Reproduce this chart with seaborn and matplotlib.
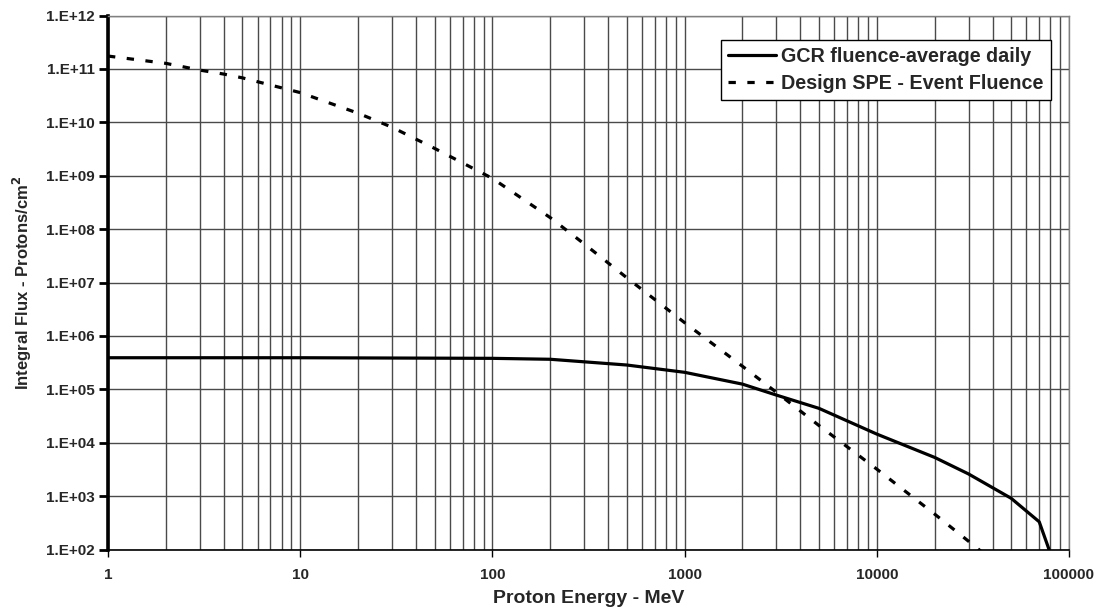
import numpy as np
import pandas as pd
import matplotlib
matplotlib.use("Agg")
import matplotlib.pyplot as plt
import seaborn as sns

# ---- data ----
gcr_energy = [1, 10, 100, 200, 500, 1000, 2000, 3000, 5000, 10000, 20000, 30000, 50000, 70000, 80000]
gcr_flux = [3.9e5, 3.9e5, 3.8e5, 3.65e5, 2.85e5, 2.08e5, 1.25e5, 7.8e4, 4.4e4, 1.45e4, 5.3e3, 2.6e3, 9.1e2, 3.3e2, 85]

spe_energy = [1, 2, 3, 4, 5, 10, 20, 30, 50, 100, 200, 300, 500, 1000, 2000, 3000, 5000, 10000, 20000, 30000, 40000]
spe_flux = [1.74e11, 1.27e11, 9.5e10, 8.0e10, 6.8e10, 3.6e10, 1.48e10, 8.1e9, 3.25e9, 8.9e8, 1.64e8, 5.3e7,
            1.23e7, 1.77e6, 2.7e5, 8.8e4, 2.1e4, 3.2e3, 4.6e2, 1.43e2, 62]

series_labels = ["GCR fluence-average daily", "Design SPE - Event Fluence"]
x_ticks = [1, 10, 100, 1000, 10000, 100000]
y_exponents = list(range(2, 13))
x_title = "Proton Energy - MeV"
y_title = "Integral Flux - Protons/cm$^\\mathbf{2}$"

gcr_df = pd.DataFrame({"energy": gcr_energy, "flux": gcr_flux})
spe_df = pd.DataFrame({"energy": spe_energy, "flux": spe_flux})

sns.set_style("white")
plt.rcParams["font.family"] = ["Liberation Sans", "DejaVu Sans"]
plt.rcParams["font.weight"] = "bold"
plt.rcParams["mathtext.default"] = "bf"

fig = plt.figure(figsize=(11.01, 6.10), dpi=100)
ax = fig.add_axes([108 / 1101, 1 - 549.5 / 610, (1069 - 108) / 1101, (549.5 - 15.5) / 610])

sns.lineplot(data=gcr_df, x="energy", y="flux", ax=ax, color="black", lw=2.3,
             label=series_labels[0], estimator=None, sort=False, zorder=5)
sns.lineplot(data=spe_df, x="energy", y="flux", ax=ax, color="black", lw=2.3,
             linestyle=(0, (2.3, 3.6)), label=series_labels[1], estimator=None, sort=False, zorder=5)

ax.set_xscale("log")
ax.set_yscale("log")
ax.set_xlim(1, 100000)
ax.set_ylim(1e2, 1e12)

# grid
ax.xaxis.set_minor_locator(matplotlib.ticker.LogLocator(base=10, subs=np.arange(2, 10)))
ax.yaxis.set_minor_locator(matplotlib.ticker.NullLocator())
ax.grid(True, which="major", axis="both", color="#4a4a4a", lw=1.0)
ax.grid(True, which="minor", axis="x", color="#4a4a4a", lw=1.0)
ax.set_axisbelow(True)

ax.set_xticks(x_ticks)
ax.set_xticklabels([str(v) for v in x_ticks])
ax.set_yticks([10.0 ** e for e in y_exponents])
ax.set_yticklabels(["1.E+%02d" % e for e in y_exponents])

ax.tick_params(axis="y", which="major", direction="out", length=6.5, width=2, color="black",
               pad=3, labelsize=11, left=True)
ax.tick_params(axis="x", which="major", direction="out", length=5, width=1, color="black",
               pad=8, labelsize=11, bottom=True)
ax.tick_params(axis="x", which="minor", length=0)
for lab in ax.get_xticklabels() + ax.get_yticklabels():
    lab.set_fontweight("bold")

for side in ["top", "right"]:
    ax.spines[side].set_visible(True)
    ax.spines[side].set_color("#808080")
    ax.spines[side].set_linewidth(1.0)
ax.spines["left"].set_color("black")
ax.spines["left"].set_linewidth(2.6)
ax.spines["bottom"].set_color("black")
ax.spines["bottom"].set_linewidth(1.2)

ax.set_xlabel(x_title, fontsize=14, fontweight="bold", labelpad=6)
ax.set_ylabel(y_title, fontsize=12, fontweight="bold", labelpad=9)

leg = ax.legend(loc="upper right", bbox_to_anchor=(0.981, 0.954), borderaxespad=0,
                frameon=True, fancybox=False, framealpha=1, edgecolor="black",
                prop={"size": 14.2, "weight": "bold"}, handlelength=2.4, handletextpad=0.3,
                borderpad=0.35, labelspacing=0.4)
leg.get_frame().set_linewidth(1.0)

fig.savefig("out.png", dpi=100)
